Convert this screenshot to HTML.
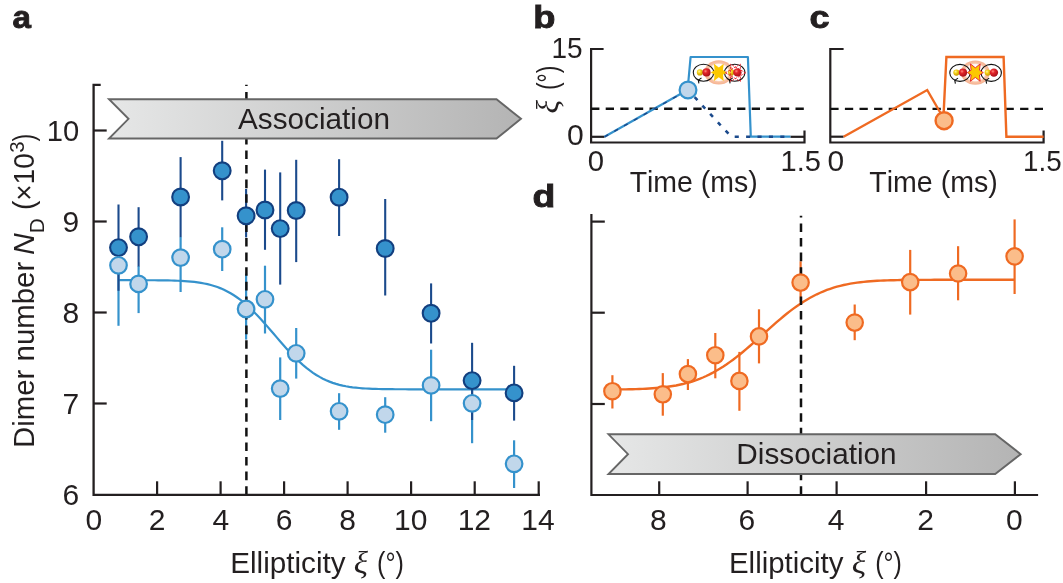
<!DOCTYPE html>
<html><head><meta charset="utf-8"><style>
html,body{margin:0;padding:0;background:#fff;width:1063px;height:583px;overflow:hidden;}
svg{display:block;will-change:transform;}
text{fill:#231f20;font-kerning:none;}
</style></head><body>
<svg width="1063" height="583" viewBox="0 0 1063 583">
<defs>
<linearGradient id="gb" x1="0" x2="1" y1="0" y2="0">
<stop offset="0" stop-color="#e6e7e7"/><stop offset="1" stop-color="#b4b4b4"/></linearGradient>
<radialGradient id="glow" cx="0.5" cy="0.5" r="0.5">
<stop offset="0" stop-color="#ffffff"/><stop offset="0.66" stop-color="#fffaf7"/><stop offset="0.77" stop-color="#f8c4a8"/><stop offset="1" stop-color="#f5b18f"/></radialGradient>
<radialGradient id="red" cx="0.38" cy="0.35" r="0.65">
<stop offset="0" stop-color="#ff8a80"/><stop offset="0.35" stop-color="#e4262b"/><stop offset="1" stop-color="#a8101a"/></radialGradient>
<radialGradient id="yel" cx="0.38" cy="0.35" r="0.65">
<stop offset="0" stop-color="#fff6a0"/><stop offset="0.4" stop-color="#f3d21a"/><stop offset="1" stop-color="#c99a00"/></radialGradient>
</defs>
<text x="12.48" y="27.8" font-family="'Liberation Sans', sans-serif" font-style="normal" font-weight="bold" font-size="31.5" textLength="18.46" lengthAdjust="spacingAndGlyphs" stroke="#231f20" stroke-width="0.9">a</text>
<line x1="118.5" y1="255" x2="118.5" y2="325.8" stroke="#3592cc" stroke-width="2.2" />
<line x1="138.6" y1="266" x2="138.6" y2="313.1" stroke="#3592cc" stroke-width="2.2" />
<line x1="180.6" y1="237" x2="180.6" y2="292" stroke="#3592cc" stroke-width="2.2" />
<line x1="222.2" y1="227.3" x2="222.2" y2="271" stroke="#3592cc" stroke-width="2.2" />
<line x1="246.1" y1="273.7" x2="246.1" y2="339.6" stroke="#3592cc" stroke-width="2.2" />
<line x1="265" y1="265.7" x2="265" y2="333.5" stroke="#3592cc" stroke-width="2.2" />
<line x1="280.2" y1="357.4" x2="280.2" y2="420" stroke="#3592cc" stroke-width="2.2" />
<line x1="296.2" y1="328" x2="296.2" y2="378.6" stroke="#3592cc" stroke-width="2.2" />
<line x1="339.1" y1="393.2" x2="339.1" y2="429.8" stroke="#3592cc" stroke-width="2.2" />
<line x1="385.2" y1="397.2" x2="385.2" y2="432.7" stroke="#3592cc" stroke-width="2.2" />
<line x1="431.1" y1="349.7" x2="431.1" y2="421.2" stroke="#3592cc" stroke-width="2.2" />
<line x1="472.1" y1="380" x2="472.1" y2="443.2" stroke="#3592cc" stroke-width="2.2" />
<line x1="514.1" y1="440.3" x2="514.1" y2="488" stroke="#3592cc" stroke-width="2.2" />
<path d="M118.50 280.20 L121.80 280.20 L125.09 280.20 L128.39 280.20 L131.69 280.21 L134.98 280.21 L138.28 280.21 L141.58 280.22 L144.87 280.23 L148.17 280.24 L151.47 280.25 L154.76 280.27 L158.06 280.30 L161.36 280.33 L164.65 280.38 L167.95 280.44 L171.25 280.51 L174.54 280.60 L177.84 280.73 L181.14 280.88 L184.43 281.06 L187.73 281.30 L191.03 281.58 L194.32 281.93 L197.62 282.35 L200.92 282.86 L204.21 283.46 L207.51 284.17 L210.81 285.00 L214.10 285.97 L217.40 287.08 L220.70 288.36 L223.99 289.81 L227.29 291.44 L230.59 293.27 L233.88 295.29 L237.18 297.52 L240.48 299.95 L243.77 302.59 L247.07 305.43 L250.37 308.46 L253.66 311.66 L256.96 315.03 L260.26 318.54 L263.55 322.17 L266.85 325.89 L270.15 329.69 L273.44 333.52 L276.74 337.36 L280.04 341.18 L283.33 344.95 L286.63 348.65 L289.93 352.24 L293.22 355.70 L296.52 359.01 L299.82 362.15 L303.11 365.11 L306.41 367.88 L309.71 370.44 L313.00 372.80 L316.30 374.96 L319.60 376.91 L322.89 378.67 L326.19 380.23 L329.49 381.62 L332.78 382.84 L336.08 383.90 L339.38 384.81 L342.67 385.60 L345.97 386.27 L349.27 386.83 L352.56 387.31 L355.86 387.70 L359.16 388.03 L362.45 388.29 L365.75 388.51 L369.05 388.68 L372.34 388.82 L375.64 388.93 L378.94 389.02 L382.23 389.09 L385.53 389.14 L388.83 389.18 L392.12 389.21 L395.42 389.23 L398.72 389.25 L402.01 389.27 L405.31 389.27 L408.61 389.28 L411.90 389.29 L415.20 389.29 L418.50 389.29 L421.79 389.30 L425.09 389.30 L428.39 389.30 L431.68 389.30 L434.98 389.30 L438.28 389.30 L441.57 389.30 L444.87 389.30 L448.17 389.30 L451.46 389.30 L454.76 389.30 L458.06 389.30 L461.35 389.30 L464.65 389.30 L467.95 389.30 L471.24 389.30 L474.54 389.30 L477.84 389.30 L481.13 389.30 L484.43 389.30 L487.73 389.30 L491.02 389.30 L494.32 389.30 L497.62 389.30 L500.91 389.30 L504.21 389.30 L507.51 389.30 L510.80 389.30 L514.10 389.30" fill="none" stroke="#3592cc" stroke-width="2.2"/>
<line x1="118.5" y1="204.5" x2="118.5" y2="290.8" stroke="#1b4a8c" stroke-width="2.1" />
<line x1="138.6" y1="207.2" x2="138.6" y2="266.4" stroke="#1b4a8c" stroke-width="2.1" />
<line x1="180.6" y1="157.1" x2="180.6" y2="237.1" stroke="#1b4a8c" stroke-width="2.1" />
<line x1="222.2" y1="140.8" x2="222.2" y2="200.4" stroke="#1b4a8c" stroke-width="2.1" />
<line x1="246.1" y1="189" x2="246.1" y2="237.4" stroke="#1b4a8c" stroke-width="2.1" />
<line x1="265" y1="169.6" x2="265" y2="249.8" stroke="#1b4a8c" stroke-width="2.1" />
<line x1="280.2" y1="172.4" x2="280.2" y2="284.6" stroke="#1b4a8c" stroke-width="2.1" />
<line x1="296.2" y1="159.8" x2="296.2" y2="262.1" stroke="#1b4a8c" stroke-width="2.1" />
<line x1="339.1" y1="159.2" x2="339.1" y2="236" stroke="#1b4a8c" stroke-width="2.1" />
<line x1="385.2" y1="199" x2="385.2" y2="295.5" stroke="#1b4a8c" stroke-width="2.1" />
<line x1="431.1" y1="283.4" x2="431.1" y2="343.5" stroke="#1b4a8c" stroke-width="2.1" />
<line x1="472.1" y1="342.8" x2="472.1" y2="420" stroke="#1b4a8c" stroke-width="2.1" />
<line x1="514.1" y1="365.8" x2="514.1" y2="420.6" stroke="#1b4a8c" stroke-width="2.1" />
<line x1="246.4" y1="494.8" x2="246.4" y2="84.8" stroke="#111" stroke-width="2.5" stroke-dasharray="8.6 6.0"/>
<path d="M109 99.2 L496.5 99.2 L521.0 118.85 L496.5 138.5 L109 138.5 L128.5 118.85 Z" fill="url(#gb)" stroke="#666" stroke-width="1.9" stroke-linejoin="miter"/>
<text x="238.04" y="128.8" font-family="'Liberation Sans', sans-serif" font-style="normal" font-weight="normal" font-size="30" textLength="151.89" lengthAdjust="spacingAndGlyphs" >Association</text>
<circle cx="118.5" cy="247.6" r="8.4" fill="#3592cc" stroke="#123f7f" stroke-width="2.1"/>
<circle cx="138.6" cy="236.8" r="8.4" fill="#3592cc" stroke="#123f7f" stroke-width="2.1"/>
<circle cx="180.6" cy="197" r="8.4" fill="#3592cc" stroke="#123f7f" stroke-width="2.1"/>
<circle cx="222.2" cy="170.8" r="8.4" fill="#3592cc" stroke="#123f7f" stroke-width="2.1"/>
<circle cx="246.1" cy="215.8" r="8.4" fill="#3592cc" stroke="#123f7f" stroke-width="2.1"/>
<circle cx="265" cy="210" r="8.4" fill="#3592cc" stroke="#123f7f" stroke-width="2.1"/>
<circle cx="280.2" cy="228.6" r="8.4" fill="#3592cc" stroke="#123f7f" stroke-width="2.1"/>
<circle cx="296.2" cy="210.5" r="8.4" fill="#3592cc" stroke="#123f7f" stroke-width="2.1"/>
<circle cx="339.1" cy="197.2" r="8.4" fill="#3592cc" stroke="#123f7f" stroke-width="2.1"/>
<circle cx="385.2" cy="248.5" r="8.4" fill="#3592cc" stroke="#123f7f" stroke-width="2.1"/>
<circle cx="431.1" cy="313.3" r="8.4" fill="#3592cc" stroke="#123f7f" stroke-width="2.1"/>
<circle cx="472.1" cy="380.6" r="8.4" fill="#3592cc" stroke="#123f7f" stroke-width="2.1"/>
<circle cx="514.1" cy="392.9" r="8.4" fill="#3592cc" stroke="#123f7f" stroke-width="2.1"/>
<circle cx="118.5" cy="265.3" r="8.3" fill="#c1d7eb" stroke="#3592cc" stroke-width="2.2"/>
<circle cx="138.6" cy="283.9" r="8.3" fill="#c1d7eb" stroke="#3592cc" stroke-width="2.2"/>
<circle cx="180.6" cy="257.6" r="8.3" fill="#c1d7eb" stroke="#3592cc" stroke-width="2.2"/>
<circle cx="222.2" cy="249.2" r="8.3" fill="#c1d7eb" stroke="#3592cc" stroke-width="2.2"/>
<circle cx="246.1" cy="309" r="8.3" fill="#c1d7eb" stroke="#3592cc" stroke-width="2.2"/>
<circle cx="265" cy="299.3" r="8.3" fill="#c1d7eb" stroke="#3592cc" stroke-width="2.2"/>
<circle cx="280.2" cy="388.6" r="8.3" fill="#c1d7eb" stroke="#3592cc" stroke-width="2.2"/>
<circle cx="296.2" cy="353.3" r="8.3" fill="#c1d7eb" stroke="#3592cc" stroke-width="2.2"/>
<circle cx="339.1" cy="411.3" r="8.3" fill="#c1d7eb" stroke="#3592cc" stroke-width="2.2"/>
<circle cx="385.2" cy="414.7" r="8.3" fill="#c1d7eb" stroke="#3592cc" stroke-width="2.2"/>
<circle cx="431.1" cy="385.4" r="8.3" fill="#c1d7eb" stroke="#3592cc" stroke-width="2.2"/>
<circle cx="472.1" cy="403.3" r="8.3" fill="#c1d7eb" stroke="#3592cc" stroke-width="2.2"/>
<circle cx="514.1" cy="463.8" r="8.3" fill="#c1d7eb" stroke="#3592cc" stroke-width="2.2"/>
<path d="M100.7 84.8 H93.6 V494.8 H540" fill="none" stroke="#231f20" stroke-width="2.3"/>
<line x1="93.6" y1="130.5" x2="106.7" y2="130.5" stroke="#231f20" stroke-width="2.2" />
<line x1="93.6" y1="221.5" x2="106.7" y2="221.5" stroke="#231f20" stroke-width="2.2" />
<line x1="93.6" y1="312.5" x2="106.7" y2="312.5" stroke="#231f20" stroke-width="2.2" />
<line x1="93.6" y1="403.5" x2="106.7" y2="403.5" stroke="#231f20" stroke-width="2.2" />
<line x1="157.1" y1="494.5" x2="157.1" y2="481.3" stroke="#231f20" stroke-width="2.2" />
<line x1="220.6" y1="494.5" x2="220.6" y2="481.3" stroke="#231f20" stroke-width="2.2" />
<line x1="284.1" y1="494.5" x2="284.1" y2="481.3" stroke="#231f20" stroke-width="2.2" />
<line x1="347.6" y1="494.5" x2="347.6" y2="481.3" stroke="#231f20" stroke-width="2.2" />
<line x1="411.1" y1="494.5" x2="411.1" y2="481.3" stroke="#231f20" stroke-width="2.2" />
<line x1="474.7" y1="494.5" x2="474.7" y2="481.3" stroke="#231f20" stroke-width="2.2" />
<line x1="538.7" y1="494.5" x2="538.7" y2="481.3" stroke="#231f20" stroke-width="2.2" />
<text x="46.68" y="140.7" font-family="'Liberation Sans', sans-serif" font-style="normal" font-weight="normal" font-size="30" textLength="32.46" lengthAdjust="spacingAndGlyphs" >10</text>
<text x="62.54" y="231.8" font-family="'Liberation Sans', sans-serif" font-style="normal" font-weight="normal" font-size="30" textLength="16.68" lengthAdjust="spacingAndGlyphs" >9</text>
<text x="62.42" y="322.8" font-family="'Liberation Sans', sans-serif" font-style="normal" font-weight="normal" font-size="30" textLength="16.68" lengthAdjust="spacingAndGlyphs" >8</text>
<text x="62.62" y="413.8" font-family="'Liberation Sans', sans-serif" font-style="normal" font-weight="normal" font-size="30" textLength="16.68" lengthAdjust="spacingAndGlyphs" >7</text>
<text x="62.43" y="504.8" font-family="'Liberation Sans', sans-serif" font-style="normal" font-weight="normal" font-size="30" textLength="16.68" lengthAdjust="spacingAndGlyphs" >6</text>
<text x="85.56" y="530.2" font-family="'Liberation Sans', sans-serif" font-style="normal" font-weight="normal" font-size="30" textLength="16.68" lengthAdjust="spacingAndGlyphs" >0</text>
<text x="148.86" y="530.2" font-family="'Liberation Sans', sans-serif" font-style="normal" font-weight="normal" font-size="30" textLength="16.68" lengthAdjust="spacingAndGlyphs" >2</text>
<text x="212.45" y="530.2" font-family="'Liberation Sans', sans-serif" font-style="normal" font-weight="normal" font-size="30" textLength="16.68" lengthAdjust="spacingAndGlyphs" >4</text>
<text x="275.76" y="530.2" font-family="'Liberation Sans', sans-serif" font-style="normal" font-weight="normal" font-size="30" textLength="16.68" lengthAdjust="spacingAndGlyphs" >6</text>
<text x="339.36" y="530.2" font-family="'Liberation Sans', sans-serif" font-style="normal" font-weight="normal" font-size="30" textLength="16.68" lengthAdjust="spacingAndGlyphs" >8</text>
<text x="393.96" y="530.2" font-family="'Liberation Sans', sans-serif" font-style="normal" font-weight="normal" font-size="30" textLength="33.37" lengthAdjust="spacingAndGlyphs" >10</text>
<text x="457.63" y="530.2" font-family="'Liberation Sans', sans-serif" font-style="normal" font-weight="normal" font-size="30" textLength="33.37" lengthAdjust="spacingAndGlyphs" >12</text>
<text x="521.21" y="530.2" font-family="'Liberation Sans', sans-serif" font-style="normal" font-weight="normal" font-size="30" textLength="33.37" lengthAdjust="spacingAndGlyphs" >14</text>
<text x="230.16" y="573.4" font-family="'Liberation Sans', sans-serif" font-style="normal" font-weight="normal" font-size="30" textLength="115.49" lengthAdjust="spacingAndGlyphs" >Ellipticity</text>
<text x="353.67" y="573.4" font-family="'Liberation Serif', serif" font-style="italic" font-weight="normal" font-size="30.5" textLength="14.15" lengthAdjust="spacingAndGlyphs" >ξ</text>
<text x="377.03" y="573.4" font-family="'Liberation Sans', sans-serif" font-style="normal" font-weight="normal" font-size="30" textLength="26.93" lengthAdjust="spacingAndGlyphs" >(°)</text>
<text transform="translate(33.8,445.7) rotate(-90)" x="-2.41" y="0" font-family="'Liberation Sans', sans-serif" font-style="normal" font-weight="normal" font-size="30" textLength="186.4" lengthAdjust="spacingAndGlyphs" >Dimer number</text>
<text transform="translate(33.8,254.0) rotate(-90)" x="-0.93" y="0" font-family="'Liberation Sans', sans-serif" font-style="italic" font-weight="normal" font-size="30" textLength="21.81" lengthAdjust="spacingAndGlyphs" >N</text>
<text transform="translate(43.6,231.6) rotate(-90)" x="-1.7" y="0" font-family="'Liberation Sans', sans-serif" font-style="normal" font-weight="normal" font-size="21" textLength="15.0" lengthAdjust="spacingAndGlyphs" >D</text>
<text transform="translate(33.8,208.3) rotate(-90)" x="-1.73" y="0" font-family="'Liberation Sans', sans-serif" font-style="normal" font-weight="normal" font-size="30" textLength="56.73" lengthAdjust="spacingAndGlyphs" >(×10</text>
<text transform="translate(24.3,152.0) rotate(-90)" x="-0.78" y="0" font-family="'Liberation Sans', sans-serif" font-style="normal" font-weight="normal" font-size="21" textLength="11.38" lengthAdjust="spacingAndGlyphs" >3</text>
<text transform="translate(33.8,141.3) rotate(-90)" x="-0.14" y="0" font-family="'Liberation Sans', sans-serif" font-style="normal" font-weight="normal" font-size="30" textLength="7.79" lengthAdjust="spacingAndGlyphs" >)</text>
<text x="533.16" y="27.8" font-family="'Liberation Sans', sans-serif" font-style="normal" font-weight="bold" font-size="31.5" textLength="22.18" lengthAdjust="spacingAndGlyphs" stroke="#231f20" stroke-width="0.9">b</text>
<path d="M603.6 49 H591.1 V142.5 H804.5 V130.6" fill="none" stroke="#231f20" stroke-width="2.2"/>
<line x1="591.1" y1="136.8" x2="604.5" y2="136.8" stroke="#231f20" stroke-width="2.2" />
<line x1="790.4" y1="136.8" x2="804.5" y2="136.8" stroke="#231f20" stroke-width="2.2" />
<line x1="591.1" y1="108.7" x2="804" y2="108.7" stroke="#111" stroke-width="2.4" stroke-dasharray="8.3 6.3"/>
<text x="551.57" y="58.1" font-family="'Liberation Sans', sans-serif" font-style="normal" font-weight="normal" font-size="30" textLength="31.1" lengthAdjust="spacingAndGlyphs" >15</text>
<text x="566.92" y="145.0" font-family="'Liberation Sans', sans-serif" font-style="normal" font-weight="normal" font-size="30" textLength="16.75" lengthAdjust="spacingAndGlyphs" >0</text>
<text x="587.86" y="171.2" font-family="'Liberation Sans', sans-serif" font-style="normal" font-weight="normal" font-size="30" textLength="16.29" lengthAdjust="spacingAndGlyphs" >0</text>
<text x="780.59" y="171.3" font-family="'Liberation Sans', sans-serif" font-style="normal" font-weight="normal" font-size="30" textLength="40.33" lengthAdjust="spacingAndGlyphs" >1.5</text>
<text x="629.66" y="192.2" font-family="'Liberation Sans', sans-serif" font-style="normal" font-weight="normal" font-size="30" textLength="128.11" lengthAdjust="spacingAndGlyphs" >Time (ms)</text>
<text transform="translate(557.5,112.4) rotate(-90)" x="-1.08" y="0" font-family="'Liberation Serif', serif" font-style="italic" font-weight="normal" font-size="30.5" textLength="13.49" lengthAdjust="spacingAndGlyphs" >ξ</text>
<text transform="translate(557.5,88.7) rotate(-90)" x="-1.43" y="0" font-family="'Liberation Sans', sans-serif" font-style="normal" font-weight="normal" font-size="30" textLength="24.56" lengthAdjust="spacingAndGlyphs" >(°)</text>
<path d="M604.5 136.8 L687.5 90 L688.5 80 L690.6 57 L747.9 57 L750.8 136.7 L790.4 136.7" fill="none" stroke="#3592cc" stroke-width="2.2" stroke-linejoin="round"/>
<path d="M604.5 136.8 L688 90" fill="none" stroke="#1b4a8c" stroke-width="1.5" stroke-dasharray="4.2 7"/>
<path d="M688 90 L729.5 134.8 L733 136.8 L790.4 136.8" fill="none" stroke="#1b4a8c" stroke-width="2.6" stroke-dasharray="4.1 7.3" stroke-dashoffset="1.6"/>
<circle cx="688" cy="90" r="8.4" fill="#c1d7eb" stroke="#3592cc" stroke-width="2.2"/>
<ellipse cx="718.8" cy="72.4" rx="14.4" ry="12.2" fill="url(#glow)"/>
<circle cx="699.9" cy="72.4" r="3.1" fill="url(#yel)"/>
<circle cx="706.5" cy="72.4" r="4.1" fill="url(#red)"/>
<ellipse cx="703.5" cy="72.7" rx="10.2" ry="8.5" fill="none" stroke="#111" stroke-width="1.1"/>
<path d="M701.5 77.9 L698.3 80.2 L698.9 83.4" fill="none" stroke="#111" stroke-width="1.1"/>
<circle cx="731.1999999999999" cy="72.4" r="3.1" fill="url(#yel)"/>
<circle cx="737.4" cy="72.4" r="4.2" fill="url(#red)"/>
<ellipse cx="734.6999999999999" cy="72.7" rx="10.2" ry="8.5" fill="none" stroke="#111" stroke-width="1.1"/>
<path d="M732.6999999999999 77.9 L729.4999999999999 80.2 L730.0999999999999 83.4" fill="none" stroke="#111" stroke-width="1.1"/>
<path d="M726.80 72.40 L722.96 70.00 L723.70 63.70 L718.80 67.60 L713.90 63.70 L714.64 70.00 L710.80 72.40 L714.64 74.80 L713.90 81.10 L718.80 77.20 L723.70 81.10 L722.96 74.80 Z" fill="#fcc800" stroke="none" stroke-width="0" stroke-linejoin="miter"/>
<path d="M725.30 72.80 L740.40 64.20 L740.40 81.40 Z M745.60 72.80 L730.60 64.20 L730.60 81.40 Z" fill="none" stroke="#e8202a" stroke-width="0.9" stroke-dasharray="2.2 1.1"/>
<text x="809.64" y="27.8" font-family="'Liberation Sans', sans-serif" font-style="normal" font-weight="bold" font-size="31.5" textLength="20.07" lengthAdjust="spacingAndGlyphs" stroke="#231f20" stroke-width="0.9">c</text>
<path d="M843.6 49 H830.3 V142.5 H1043.6 V130.6" fill="none" stroke="#231f20" stroke-width="2.2"/>
<line x1="830.3" y1="136.7" x2="843.6" y2="136.7" stroke="#231f20" stroke-width="2.2" />
<line x1="830.3" y1="108.9" x2="1043" y2="108.9" stroke="#111" stroke-width="2.4" stroke-dasharray="8.3 6.3"/>
<text x="827.53" y="171.3" font-family="'Liberation Sans', sans-serif" font-style="normal" font-weight="normal" font-size="30" textLength="16.64" lengthAdjust="spacingAndGlyphs" >0</text>
<text x="1023.09" y="170.8" font-family="'Liberation Sans', sans-serif" font-style="normal" font-weight="normal" font-size="30" textLength="38.58" lengthAdjust="spacingAndGlyphs" >1.5</text>
<text x="869.26" y="191.8" font-family="'Liberation Sans', sans-serif" font-style="normal" font-weight="normal" font-size="30" textLength="128.51" lengthAdjust="spacingAndGlyphs" >Time (ms)</text>
<path d="M843.6 136.7 L927.2 90 L940.5 113 M943.7 112 L946.4 57 L1003.6 57 L1006.4 136.7 L1043.6 136.7" fill="none" stroke="#ef6a22" stroke-width="2.4" stroke-linejoin="miter"/>
<circle cx="944.1" cy="120.7" r="8.5" fill="#fbbd8a" stroke="#ef6a22" stroke-width="2.4"/>
<ellipse cx="975.3" cy="72.6" rx="14.4" ry="12.2" fill="url(#glow)"/>
<circle cx="956.4" cy="72.6" r="3.1" fill="url(#yel)"/>
<circle cx="963.0" cy="72.6" r="4.1" fill="url(#red)"/>
<ellipse cx="960.0" cy="72.89999999999999" rx="10.2" ry="8.5" fill="none" stroke="#111" stroke-width="1.1"/>
<path d="M958.0 78.1 L954.8 80.39999999999999 L955.4 83.6" fill="none" stroke="#111" stroke-width="1.1"/>
<circle cx="987.6999999999999" cy="72.6" r="3.1" fill="url(#yel)"/>
<circle cx="993.9" cy="72.6" r="4.2" fill="url(#red)"/>
<ellipse cx="991.1999999999999" cy="72.89999999999999" rx="10.2" ry="8.5" fill="none" stroke="#111" stroke-width="1.1"/>
<path d="M989.1999999999999 78.1 L985.9999999999999 80.39999999999999 L986.5999999999999 83.6" fill="none" stroke="#111" stroke-width="1.1"/>
<path d="M983.30 72.60 L979.46 70.20 L980.20 63.90 L975.30 67.80 L970.40 63.90 L971.14 70.20 L967.30 72.60 L971.14 75.00 L970.40 81.30 L975.30 77.40 L980.20 81.30 L979.46 75.00 Z" fill="#fcc800" stroke="#e8202a" stroke-width="0.9" stroke-linejoin="miter"/>
<text x="532.62" y="207.2" font-family="'Liberation Sans', sans-serif" font-style="normal" font-weight="bold" font-size="31.5" textLength="22.79" lengthAdjust="spacingAndGlyphs" stroke="#231f20" stroke-width="0.9">d</text>
<line x1="612.4" y1="375.2" x2="612.4" y2="408.5" stroke="#ef6a22" stroke-width="2.2" />
<line x1="662.8" y1="373.1" x2="662.8" y2="415.7" stroke="#ef6a22" stroke-width="2.2" />
<line x1="687.9" y1="359.1" x2="687.9" y2="390" stroke="#ef6a22" stroke-width="2.2" />
<line x1="715.3" y1="333" x2="715.3" y2="378.3" stroke="#ef6a22" stroke-width="2.2" />
<line x1="739.4" y1="351.9" x2="739.4" y2="410.8" stroke="#ef6a22" stroke-width="2.2" />
<line x1="759" y1="309.3" x2="759" y2="363.4" stroke="#ef6a22" stroke-width="2.2" />
<line x1="800.6" y1="261.3" x2="800.6" y2="302.5" stroke="#ef6a22" stroke-width="2.2" />
<line x1="854.7" y1="304.5" x2="854.7" y2="340.2" stroke="#ef6a22" stroke-width="2.2" />
<line x1="910.2" y1="249.9" x2="910.2" y2="314.6" stroke="#ef6a22" stroke-width="2.2" />
<line x1="958.1" y1="246.2" x2="958.1" y2="300.3" stroke="#ef6a22" stroke-width="2.2" />
<line x1="1014.6" y1="219.4" x2="1014.6" y2="294" stroke="#ef6a22" stroke-width="2.2" />
<path d="M612.40 389.49 L615.75 389.46 L619.10 389.42 L622.45 389.38 L625.81 389.33 L629.16 389.26 L632.51 389.19 L635.86 389.09 L639.21 388.98 L642.56 388.85 L645.92 388.69 L649.27 388.51 L652.62 388.29 L655.97 388.03 L659.32 387.74 L662.67 387.39 L666.03 387.00 L669.38 386.55 L672.73 386.03 L676.08 385.45 L679.43 384.78 L682.78 384.04 L686.14 383.20 L689.49 382.28 L692.84 381.25 L696.19 380.11 L699.54 378.86 L702.89 377.49 L706.25 376.01 L709.60 374.40 L712.95 372.67 L716.30 370.81 L719.65 368.82 L723.00 366.71 L726.36 364.48 L729.71 362.13 L733.06 359.68 L736.41 357.11 L739.76 354.45 L743.12 351.70 L746.47 348.88 L749.82 345.99 L753.17 343.05 L756.52 340.07 L759.87 337.06 L763.23 334.05 L766.58 331.03 L769.93 328.04 L773.28 325.07 L776.63 322.15 L779.98 319.29 L783.34 316.50 L786.69 313.79 L790.04 311.17 L793.39 308.65 L796.74 306.24 L800.09 303.94 L803.44 301.76 L806.80 299.70 L810.15 297.77 L813.50 295.97 L816.85 294.29 L820.20 292.73 L823.56 291.30 L826.91 289.99 L830.26 288.79 L833.61 287.70 L836.96 286.71 L840.31 285.82 L843.66 285.03 L847.02 284.32 L850.37 283.69 L853.72 283.14 L857.07 282.65 L860.42 282.22 L863.77 281.85 L867.13 281.53 L870.48 281.25 L873.83 281.01 L877.18 280.81 L880.53 280.64 L883.88 280.49 L887.24 280.37 L890.59 280.26 L893.94 280.18 L897.29 280.11 L900.64 280.05 L904.00 280.00 L907.35 279.96 L910.70 279.93 L914.05 279.90 L917.40 279.88 L920.75 279.86 L924.11 279.85 L927.46 279.84 L930.81 279.83 L934.16 279.82 L937.51 279.82 L940.86 279.81 L944.21 279.81 L947.57 279.81 L950.92 279.81 L954.27 279.80 L957.62 279.80 L960.97 279.80 L964.33 279.80 L967.68 279.80 L971.03 279.80 L974.38 279.80 L977.73 279.80 L981.08 279.80 L984.43 279.80 L987.79 279.80 L991.14 279.80 L994.49 279.80 L997.84 279.80 L1001.19 279.80 L1004.55 279.80 L1007.90 279.80 L1011.25 279.80 L1014.60 279.80" fill="none" stroke="#ef6a22" stroke-width="2.4"/>
<line x1="801" y1="494.8" x2="801" y2="215.7" stroke="#111" stroke-width="2.5" stroke-dasharray="8.6 6.0"/>
<path d="M608.5 434.3 L995.2 434.3 L1020.7 454.15 L995.2 474 L608.5 474 L628.0 454.15 Z" fill="url(#gb)" stroke="#666" stroke-width="1.9" stroke-linejoin="miter"/>
<text x="736.36" y="464.3" font-family="'Liberation Sans', sans-serif" font-style="normal" font-weight="normal" font-size="30" textLength="160.27" lengthAdjust="spacingAndGlyphs" >Dissociation</text>
<circle cx="612.4" cy="391.2" r="8.2" fill="#fbbd8a" stroke="#ef6a22" stroke-width="2.2"/>
<circle cx="662.8" cy="394.3" r="8.2" fill="#fbbd8a" stroke="#ef6a22" stroke-width="2.2"/>
<circle cx="687.9" cy="374.1" r="8.2" fill="#fbbd8a" stroke="#ef6a22" stroke-width="2.2"/>
<circle cx="715.3" cy="355.2" r="8.2" fill="#fbbd8a" stroke="#ef6a22" stroke-width="2.2"/>
<circle cx="739.4" cy="380.9" r="8.2" fill="#fbbd8a" stroke="#ef6a22" stroke-width="2.2"/>
<circle cx="759" cy="336.4" r="8.2" fill="#fbbd8a" stroke="#ef6a22" stroke-width="2.2"/>
<circle cx="800.6" cy="282.6" r="8.2" fill="#fbbd8a" stroke="#ef6a22" stroke-width="2.2"/>
<circle cx="854.7" cy="322.6" r="8.2" fill="#fbbd8a" stroke="#ef6a22" stroke-width="2.2"/>
<circle cx="910.2" cy="282.1" r="8.2" fill="#fbbd8a" stroke="#ef6a22" stroke-width="2.2"/>
<circle cx="958.1" cy="273.5" r="8.2" fill="#fbbd8a" stroke="#ef6a22" stroke-width="2.2"/>
<circle cx="1014.6" cy="256.4" r="8.2" fill="#fbbd8a" stroke="#ef6a22" stroke-width="2.2"/>
<path d="M591.4 214 V495 H1038.1" fill="none" stroke="#231f20" stroke-width="2.2"/>
<line x1="591.4" y1="221.6" x2="604.8" y2="221.6" stroke="#231f20" stroke-width="2.2" />
<line x1="591.4" y1="312.7" x2="604.8" y2="312.7" stroke="#231f20" stroke-width="2.2" />
<line x1="591.4" y1="404.0" x2="604.8" y2="404.0" stroke="#231f20" stroke-width="2.2" />
<line x1="659.2" y1="495" x2="659.2" y2="481.3" stroke="#231f20" stroke-width="2.2" />
<line x1="747.6" y1="495" x2="747.6" y2="481.3" stroke="#231f20" stroke-width="2.2" />
<line x1="836.6" y1="495" x2="836.6" y2="481.3" stroke="#231f20" stroke-width="2.2" />
<line x1="926.1" y1="495" x2="926.1" y2="481.3" stroke="#231f20" stroke-width="2.2" />
<line x1="1014.9" y1="495" x2="1014.9" y2="481.3" stroke="#231f20" stroke-width="2.2" />
<text x="649.96" y="530.0" font-family="'Liberation Sans', sans-serif" font-style="normal" font-weight="normal" font-size="30" textLength="16.68" lengthAdjust="spacingAndGlyphs" >8</text>
<text x="738.56" y="530.0" font-family="'Liberation Sans', sans-serif" font-style="normal" font-weight="normal" font-size="30" textLength="16.68" lengthAdjust="spacingAndGlyphs" >6</text>
<text x="827.75" y="530.0" font-family="'Liberation Sans', sans-serif" font-style="normal" font-weight="normal" font-size="30" textLength="16.68" lengthAdjust="spacingAndGlyphs" >4</text>
<text x="917.16" y="530.0" font-family="'Liberation Sans', sans-serif" font-style="normal" font-weight="normal" font-size="30" textLength="16.68" lengthAdjust="spacingAndGlyphs" >2</text>
<text x="1005.96" y="530.0" font-family="'Liberation Sans', sans-serif" font-style="normal" font-weight="normal" font-size="30" textLength="16.68" lengthAdjust="spacingAndGlyphs" >0</text>
<text x="728.98" y="573.4" font-family="'Liberation Sans', sans-serif" font-style="normal" font-weight="normal" font-size="30" textLength="114.57" lengthAdjust="spacingAndGlyphs" >Ellipticity</text>
<text x="851.85" y="573.4" font-family="'Liberation Serif', serif" font-style="italic" font-weight="normal" font-size="30.5" textLength="14.36" lengthAdjust="spacingAndGlyphs" >ξ</text>
<text x="875.25" y="573.4" font-family="'Liberation Sans', sans-serif" font-style="normal" font-weight="normal" font-size="30" textLength="26.71" lengthAdjust="spacingAndGlyphs" >(°)</text>
</svg></body></html>
